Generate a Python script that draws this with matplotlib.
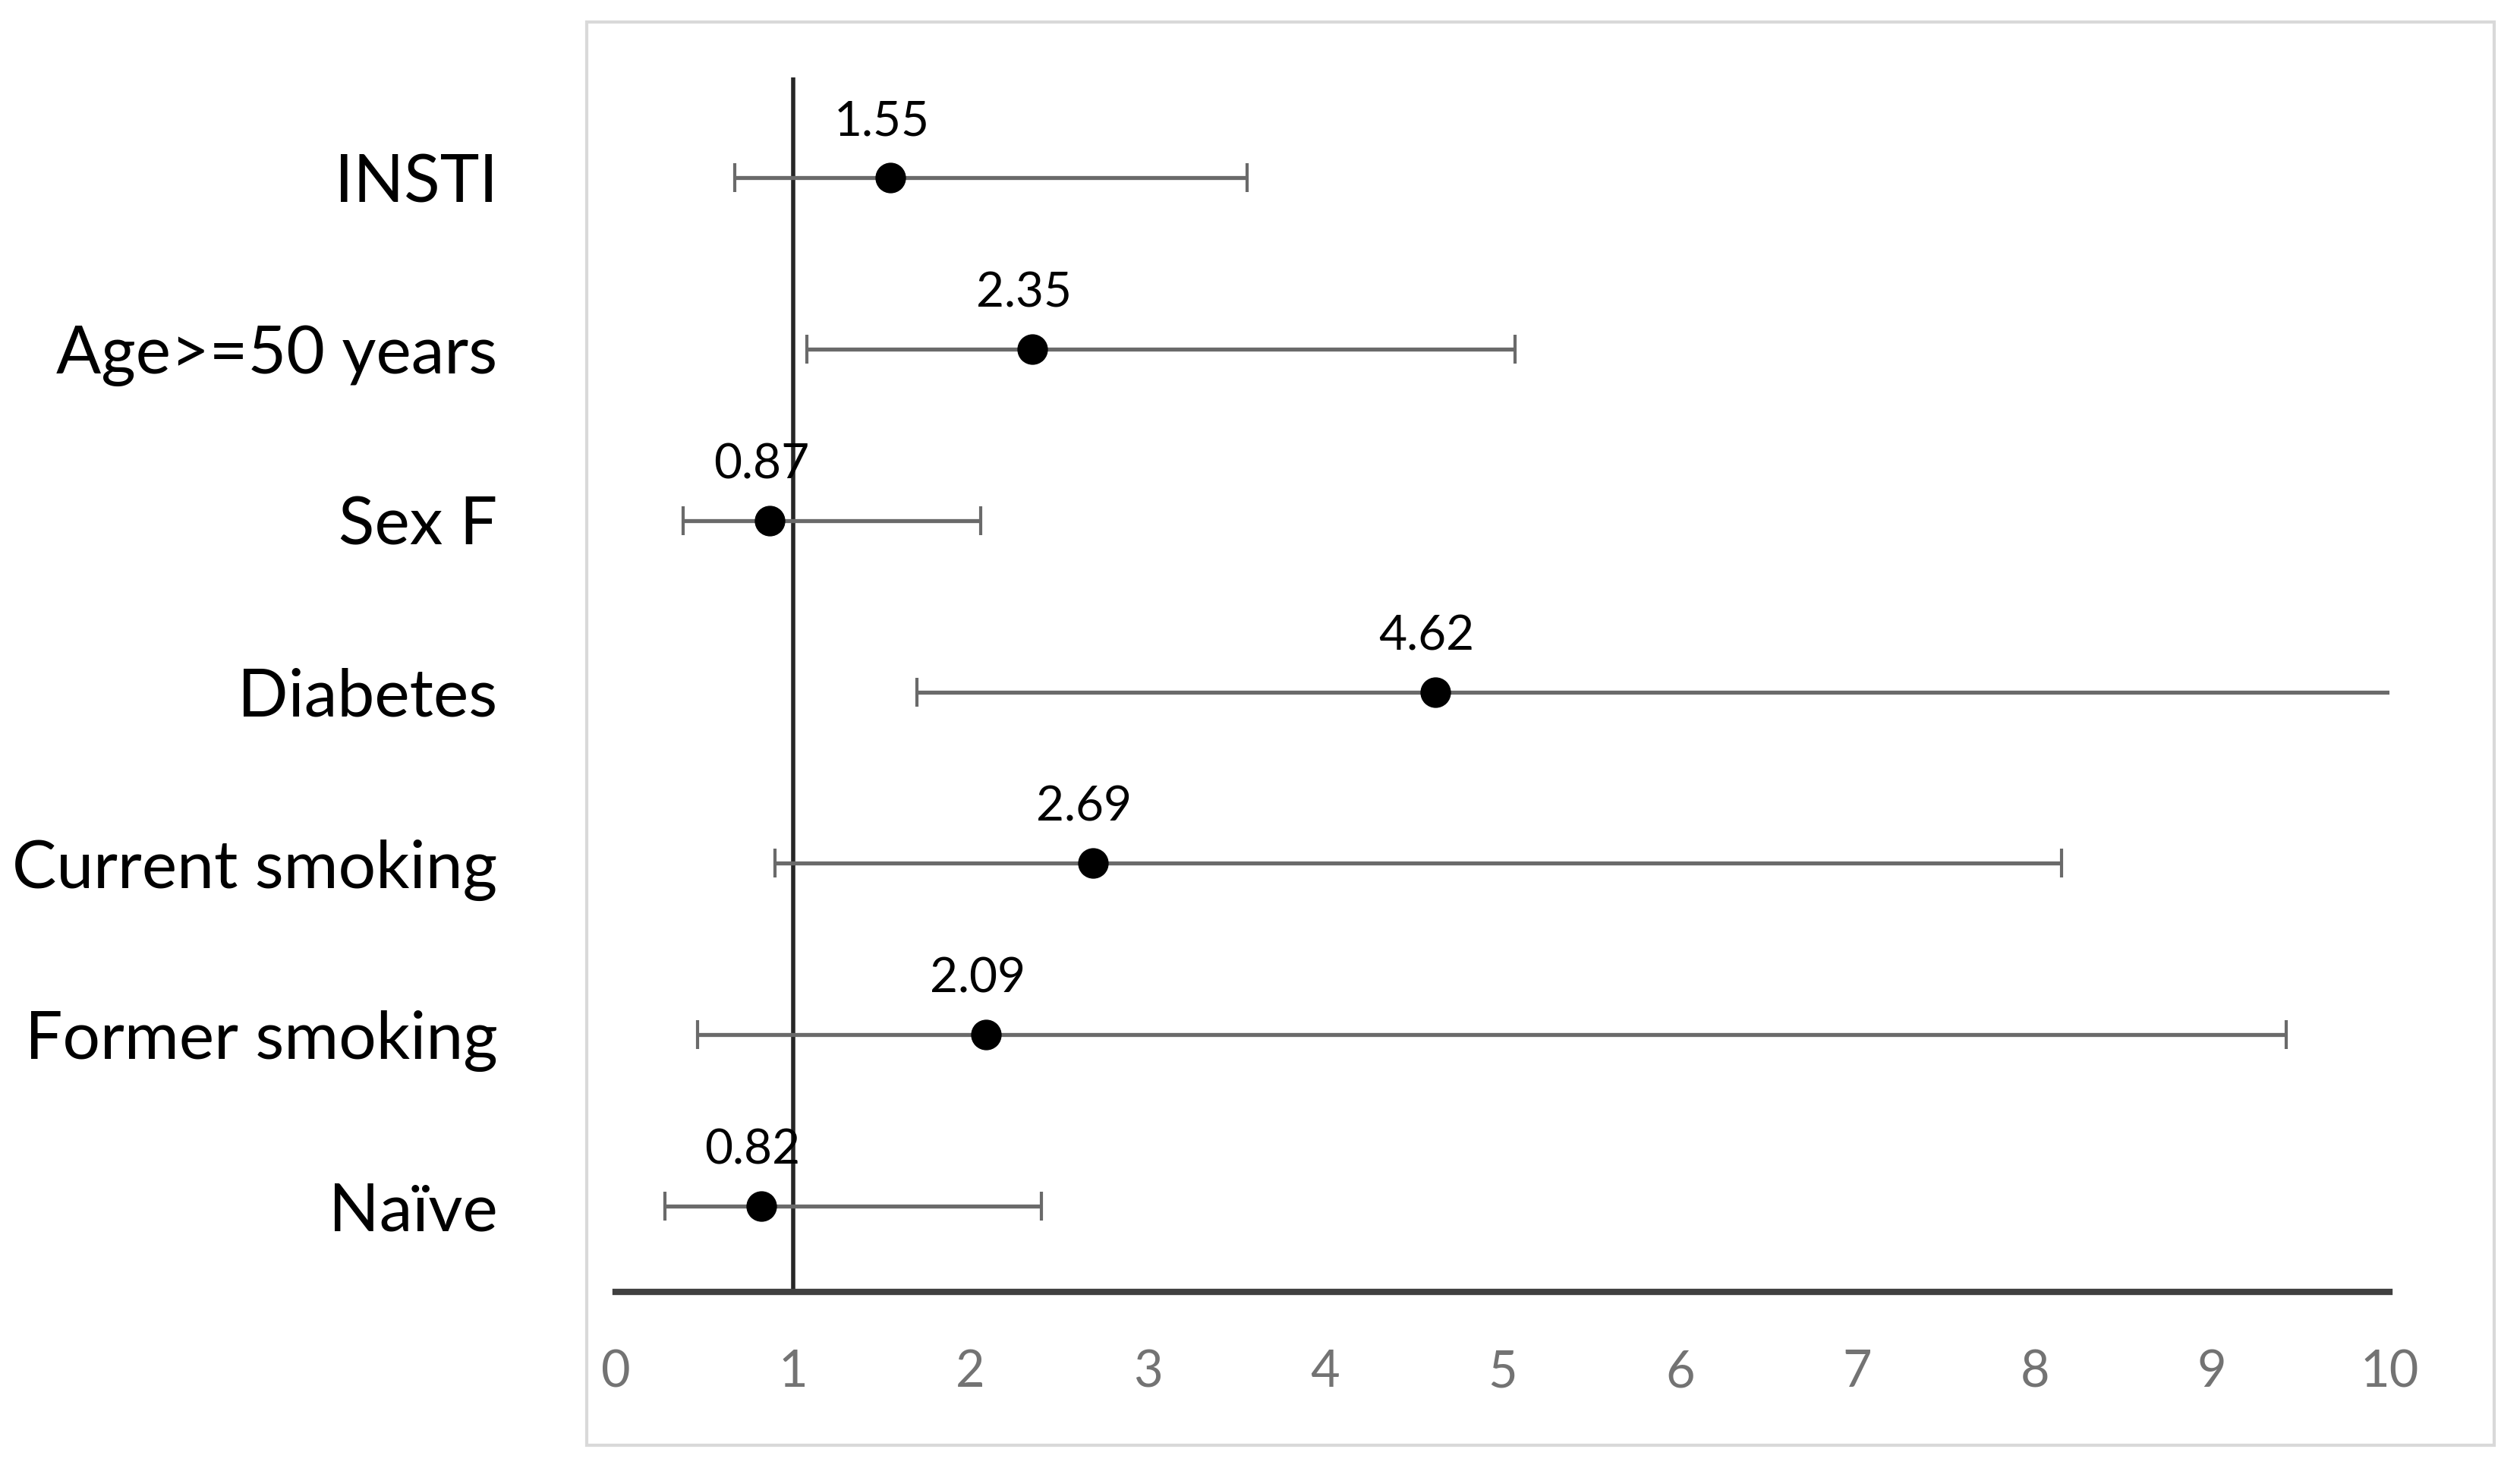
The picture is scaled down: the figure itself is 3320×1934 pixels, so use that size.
import matplotlib
matplotlib.use("Agg")
import matplotlib.pyplot as plt
from matplotlib.patches import Rectangle

categories = ["INSTI", "Age>=50 years", "Sex F", "Diabetes",
              "Current smoking", "Former smoking", "Naïve"]
estimates = [1.55, 2.35, 0.87, 4.62, 2.69, 2.09, 0.82]
lower_ci = [0.67, 1.08, 0.38, 1.70, 0.90, 0.46, 0.28]
upper_ci = [3.56, 5.07, 2.06, 12.60, 8.15, 9.42, 2.40]
value_labels = ["1.55", "2.35", "0.87", "4.62", "2.69", "2.09", "0.82"]
x_ticks = [0, 1, 2, 3, 4, 5, 6, 7, 8, 9, 10]

plt.rcParams['font.family'] = ['Lato', 'DejaVu Sans']

W, H = 3320, 1934
fig = plt.figure(figsize=(W / 100, H / 100), dpi=100)
fig.patch.set_facecolor("white")

# light gray outer frame
fig.add_artist(Rectangle((773 / W, 1 - 1904 / H), (3286 - 773) / W, (1904 - 29) / H,
                         transform=fig.transFigure, fill=False,
                         edgecolor="#d9d9d9", linewidth=3))

ax = fig.add_axes([811 / W, 1 - 1702 / H, (3148 - 811) / W, (1702 - 102) / H])

ypos = list(range(len(categories)))
xerr = [[e - l for e, l in zip(estimates, lower_ci)],
        [u - e for e, u in zip(estimates, upper_ci)]]

ax.axvline(1, color="#262626", linewidth=4, zorder=2)

ax.errorbar(estimates, ypos, xerr=xerr, fmt="none", ecolor="#6a6a6a",
            elinewidth=3.8, capsize=14, capthick=3, zorder=3)
ax.plot(estimates, ypos, "o", color="black", markersize=28, zorder=4)

for x, y, t in zip(estimates, ypos, value_labels):
    ax.annotate(t, (x, y), xytext=(-8, 32), textcoords="offset points",
                ha="center", va="bottom", fontsize=46, color="black")

ax.set_xlim(0, 10)
ax.set_ylim(6.5, -0.585)
ax.set_xticks(x_ticks)
ax.set_xticklabels([str(t) for t in x_ticks])
ax.set_yticks(ypos)
ax.set_yticklabels(categories)

for s in ["top", "right", "left"]:
    ax.spines[s].set_visible(False)
ax.spines["bottom"].set_color("#404040")
ax.spines["bottom"].set_linewidth(6)

ax.tick_params(axis="x", length=0, pad=54, labelsize=48, labelcolor="#737373")
ax.tick_params(axis="y", length=0, pad=112, labelsize=63, labelcolor="black")

fig.savefig("out.png", dpi=100, facecolor="white")
